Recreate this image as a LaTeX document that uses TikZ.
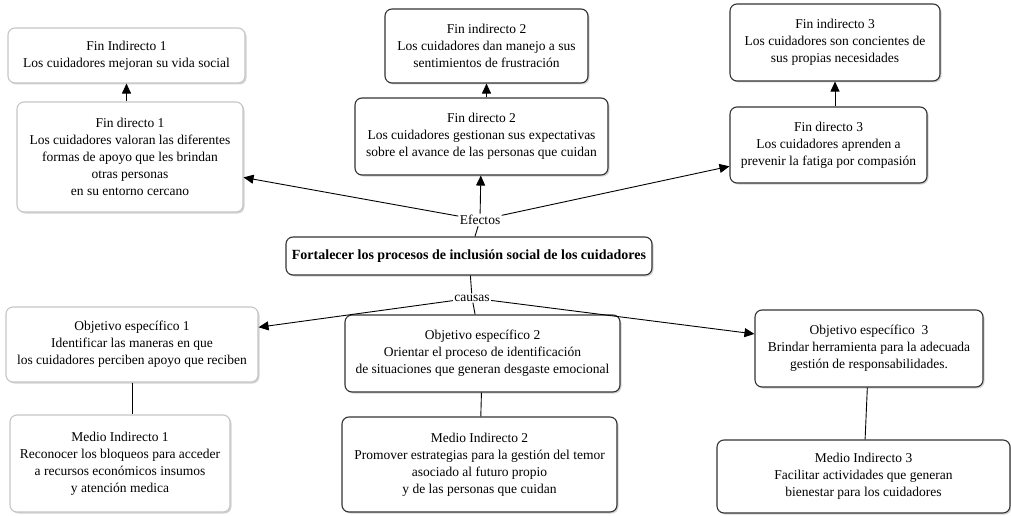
\documentclass[tikz,border=0pt]{standalone}
\usepackage{fontspec}
\setmainfont{Liberation Serif}
\usepackage{tikz}
\usetikzlibrary{arrows.meta,positioning,shadows}

\begin{document}
\begin{tikzpicture}[
  x=1pt,y=-1pt,
  box/.style={draw=black!80,line width=1.1pt,rounded corners=7pt,fill=white,align=center,inner sep=2pt,
    drop shadow={shadow xshift=1.5pt,shadow yshift=-1.5pt,opacity=0.35}},
  lbox/.style={box,draw=gray!45},
  lbl/.style={inner sep=1pt,fill=white},
  every node/.style={font=\fontsize{13.5}{17}\selectfont},
  >={Triangle[length=10pt,width=9pt]},
  line width=0.9pt
]
  \useasboundingbox (0,0) rectangle (1011,516);

  % efectos
  \node[lbox,minimum width=237pt,minimum height=55pt]  (fi1) at (126.5,55.5) {Fin Indirecto 1\\Los cuidadores mejoran su vida social};
  \node[lbox,minimum width=226pt,minimum height=110pt] (fd1) at (130,157) {Fin directo 1\\Los cuidadores valoran las diferentes\\formas de apoyo que les brindan\\otras personas\\en su entorno cercano};
  \node[box,minimum width=203pt,minimum height=74pt]  (fi2) at (486.5,46) {Fin indirecto 2\\Los cuidadores dan manejo a sus\\sentimientos de frustración};
  \node[box,minimum width=253pt,minimum height=77pt]  (fd2) at (481.5,136.5) {Fin directo 2\\Los cuidadores gestionan sus expectativas\\sobre el avance de las personas que cuidan};
  \node[box,minimum width=210pt,minimum height=77pt]  (fi3) at (835,42.5) {Fin indirecto 3\\Los cuidadores son concientes de\\sus propias necesidades};
  \node[box,minimum width=197pt,minimum height=76pt]  (fd3) at (828.5,145) {Fin directo 3\\Los cuidadores aprenden a\\prevenir la fatiga por compasión};

  \draw[->](fd1.north -| fi1.south)--(fi1.south);
  \draw[->](fd2.north -| fi2.south)--(fi2.south);
  \draw[->](fd3.north -| fi3.south)--(fi3.south);

  % problema central
  \node[box,minimum width=366pt,minimum height=38pt,font=\fontsize{14}{17}\selectfont] (cen) at (469,256) {\textbf{Fortalecer los procesos de inclusión social de los cuidadores}};
  \node[lbl] (efe) at (480,220) {Efectos};
  \node[lbl] (cau) at (472,298) {causas};

  \draw(cen)--(efe); \draw(cen)--(cau);
  \draw[->](efe)--(fd1); \draw[->](efe)--(fd2); \draw[->](efe)--(fd3);

  % objetivos y medios
  \node[lbox,minimum width=252pt,minimum height=75pt] (obj1) at (132,344.5) {Objetivo específico 1\\Identificar las maneras en que\\los cuidadores perciben apoyo que reciben};
  \node[box,minimum width=275pt,minimum height=77pt]  (obj2) at (482.5,353.5) {Objetivo específico 2\\Orientar el proceso de identificación\\de situaciones que generan desgaste emocional};
  \node[box,minimum width=228pt,minimum height=77pt]  (obj3) at (869,348.5) {Objetivo específico~~3\\Brindar herramienta para la adecuada\\gestión de responsabilidades.};

  \node[lbox,minimum width=220pt,minimum height=97pt] (med1) at (120,463.5) {Medio Indirecto 1\\Reconocer los bloqueos para acceder\\a recursos económicos insumos\\y atención medica};
  \node[box,minimum width=275pt,minimum height=95pt]  (med2) at (479.5,464.5) {Medio Indirecto 2\\Promover estrategias para la gestión del temor\\asociado al futuro propio\\y de las personas que cuidan};
  \node[box,minimum width=293pt,minimum height=73pt]  (med3) at (863.5,476.5) {Medio Indirecto 3\\Facilitar actividades que generan\\bienestar para los cuidadores};

  \draw[->](cau)--(obj1); \draw(cau)--(obj2); \draw[->](cau)--(obj3);
  \draw(obj1.south)--(med1.north -| obj1.south);
  \draw(obj2)--(med2); \draw(obj3)--(med3);
\end{tikzpicture}
\end{document}
